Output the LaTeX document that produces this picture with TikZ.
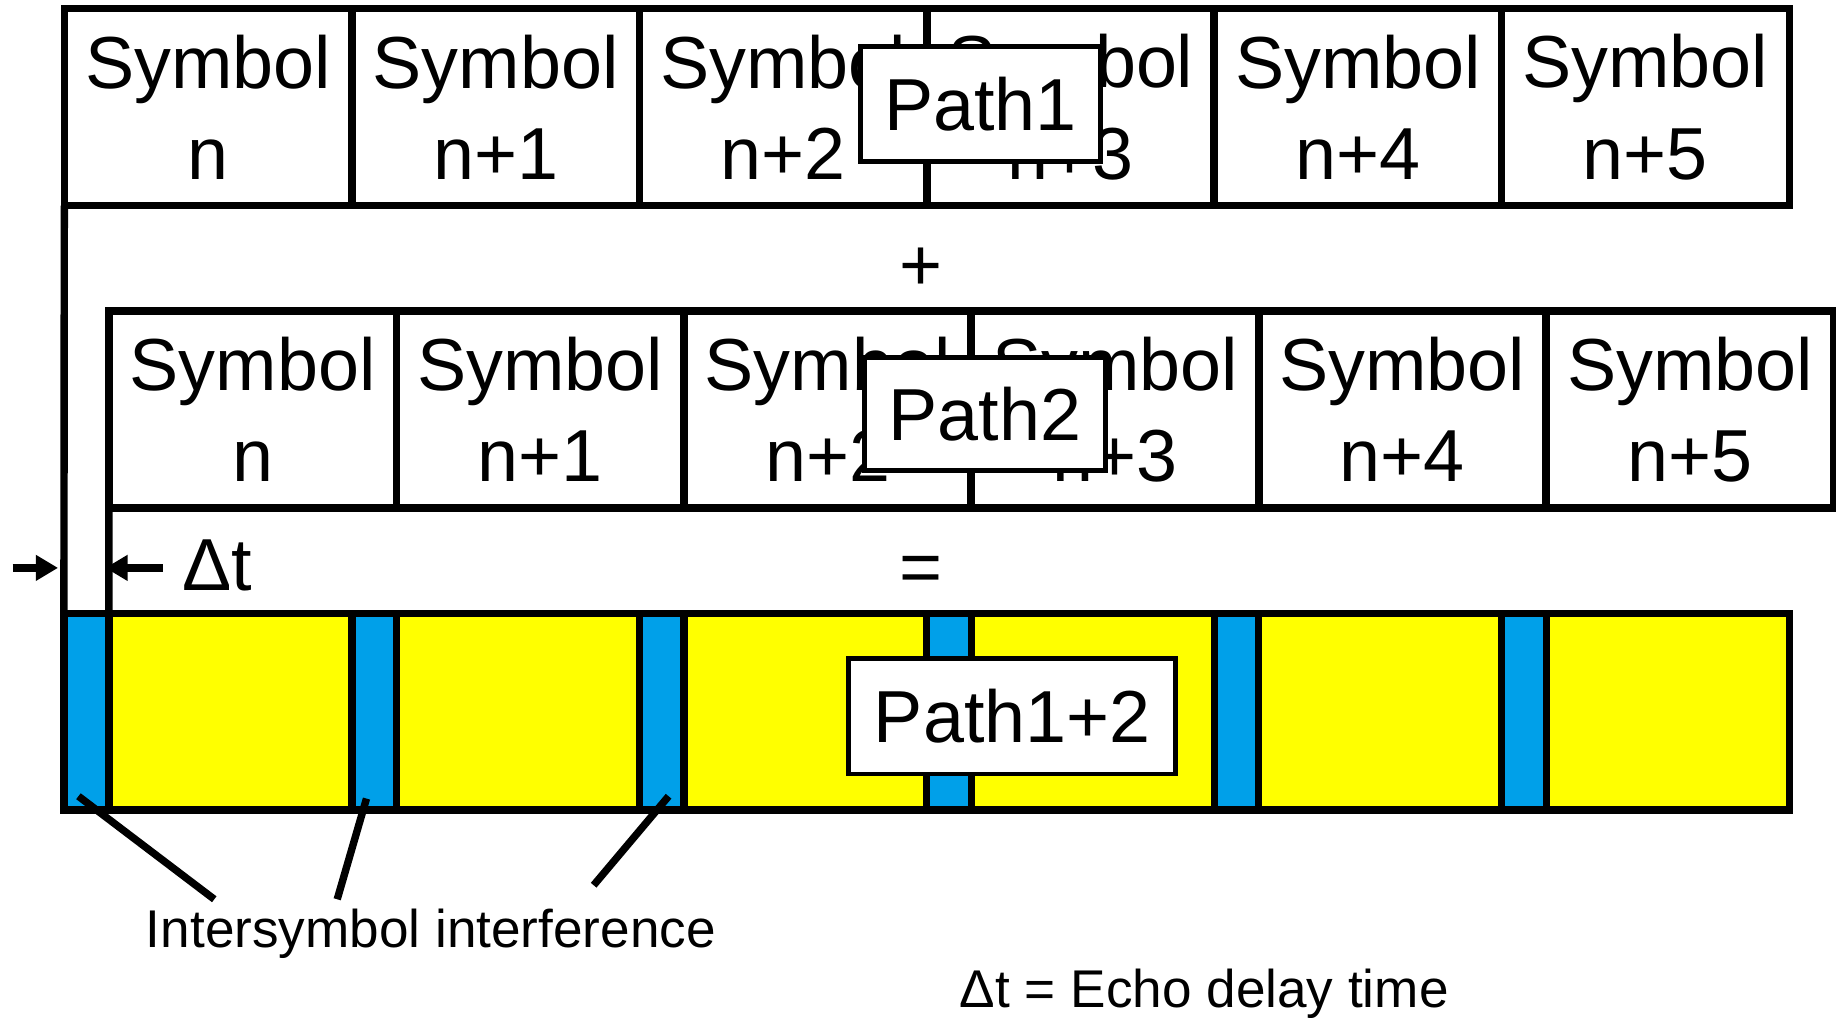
\documentclass[tikz,border=0pt]{standalone}
\usepackage{fontspec}
\setmainfont{Liberation Sans}
\usetikzlibrary{arrows.meta}
\definecolor{isiblue}{RGB}{0,160,233}
\definecolor{symyellow}{RGB}{255,255,0}
\begin{document}
\begin{tikzpicture}[x=0.01cm,y=-0.01cm,
  every node/.style={outer sep=0pt},
  big/.style={font=\fontsize{17.9}{22.2}\selectfont},
  small/.style={font=\fontsize{12.9}{15.5}\selectfont},
  cell/.style={draw,line width=1.8pt,minimum width=2.455cm,minimum height=1.68cm,inner sep=0pt,align=center,big},
  band/.style={draw,fill=isiblue,line width=1.8pt,minimum width=0.38cm,minimum height=1.68cm,inner sep=0pt},
  sumbox/.style={draw,fill=symyellow,line width=1.8pt,minimum width=14.73cm,minimum height=1.68cm,inner sep=0pt},
  pathbox/.style={draw,fill=white,line width=1.2pt,inner sep=0pt,big},
  conn/.style={line width=1.8pt},
  dtarrow/.style={line width=1.8pt,-{Triangle[length=1.9mm,width=2.1mm]}},
]
\useasboundingbox (0,0) rectangle (1568,869);

% top and second rows of symbols
\foreach \i/\lab in {0/n,1/n+1,2/n+2,3/n+3,4/n+4,5/n+5} {
  \node[cell] (t\i) at ({55+245.5*(\i+0.5)},91.5) {Symbol\\\lab};
  \node[cell] (s\i) at ({93+245.5*(\i+0.5)},349.75) {Symbol\\\lab};
}

% result row
\node[sumbox] (sum) at (791.5,607.75) {};
\foreach \i in {0,...,5} {
  \node[band] (b\i) at ({74+245.5*\i},607.75) {};
}

% left extension lines
\draw[conn] (t0.south west) -- (sum.north west);
\draw[conn] (s0.south west) -- (b0.north east);

% path labels
\node[pathbox,minimum width=2.05cm,minimum height=0.98cm] (p1) at (837.5,89) {Path1};
\node[pathbox,minimum width=2.06cm,minimum height=0.97cm] (p2) at (841,353.5) {Path2};
\node[pathbox,minimum width=2.79cm,minimum height=0.99cm] (p12) at (864.5,611.5) {Path1+2};

% operators
\node[big,inner sep=0pt] (plus) at (787,230) {+};
\node[big,inner sep=0pt] (eq) at (787,491) {=};

% delta t
\node[big,inner sep=0pt,anchor=base west] (dt) at (156,504) {Δt};
\coordinate (al0) at (10.7,485);
\coordinate (al1) at (49.6,485);
\coordinate (ar0) at (139,485);
\coordinate (ar1) at (90,485);
\draw[dtarrow] (al0) -- (al1);
\draw[dtarrow] (ar0) -- (ar1);

% intersymbol interference
\node[small,inner sep=0pt,anchor=base] (isi) at (368,809) {Intersymbol interference};
\coordinate (i1a) at (67,680);
\coordinate (i1b) at (183,768);
\coordinate (i2a) at (313,682);
\coordinate (i2b) at (288,768);
\coordinate (i3a) at (571,680);
\coordinate (i3b) at (507,756);
\draw[conn] (i1a) -- (i1b);
\draw[conn] (i2a) -- (i2b);
\draw[conn] (i3a) -- (i3b);

% legend
\node[small,inner sep=0pt,anchor=base] (echo) at (1028.5,860) {Δt = Echo delay time};
\end{tikzpicture}
\end{document}
